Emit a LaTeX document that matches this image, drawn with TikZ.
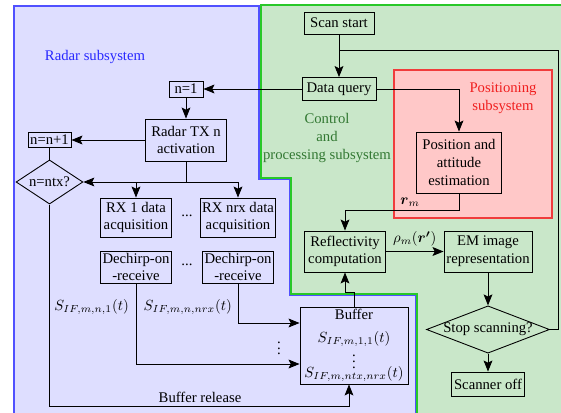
\documentclass[tikz,border=0pt]{standalone}
\usepackage{amsmath}
\usepackage{fontspec}
\setmainfont{Liberation Serif}
\usetikzlibrary{arrows.meta,shapes.geometric}

\definecolor{radarfill}{RGB}{222,222,255}
\definecolor{radarline}{RGB}{80,80,255}
\definecolor{radartext}{RGB}{40,40,255}
\definecolor{ctrlfill}{RGB}{201,231,201}
\definecolor{ctrlline}{RGB}{40,200,40}
\definecolor{ctrltext}{RGB}{50,120,50}
\definecolor{posfill}{RGB}{255,200,200}
\definecolor{posline}{RGB}{240,60,60}
\definecolor{postext}{RGB}{240,30,30}

\tikzset{
	block/.style={draw, line width=0.6pt, align=center, inner sep=1pt},
	decision/.style={draw, line width=0.6pt, diamond, aspect=2.6, inner sep=0pt, align=center},
	link/.style={line width=0.6pt, -{Stealth[length=7.5pt,width=6pt,inset=1.5pt]}},
	plain/.style={line width=0.6pt},
}

\begin{document}
\begin{tikzpicture}[x=0.68pt, y=-0.68pt]
	\useasboundingbox (0,0) rectangle (561,412);
	% subsystems
	\filldraw[fill=ctrlfill, draw=ctrlline, line width=0.8pt] (261,5) -- (565,5) -- (565,416) -- (417,416) -- (417,294) -- (291,294) -- (291,178) -- (261,178) -- cycle;
	\filldraw[fill=radarfill, draw=radarline, line width=0.8pt] (14,6) -- (259,6) -- (259,179.5) -- (289.5,179.5) -- (289.5,295.5) -- (415.5,295.5) -- (415.5,416) -- (14,416) -- cycle;
	\filldraw[fill=posfill, draw=posline, line width=0.8pt] (394,70) rectangle (552,218);
	\node[text=radartext] (radarlbl) at (95,57) {Radar subsystem};
	\node[text=ctrltext, align=center] (ctrllbl) at (327,138) {Control\\and\\processing subsystem};
	\node[text=postext, align=center] (poslbl) at (503,98) {Positioning\\subsystem};

	% control and processing
	\node[block, minimum width=47.6pt, minimum height=15pt] (scan) at (339,23) {Scan start};
	\node[block, minimum width=50.3pt, minimum height=15.6pt] (query) at (339,89) {Data query};
	\node[block, minimum width=57.8pt, minimum height=41.5pt] (pos) at (459,162.5) {Position and\\attitude\\estimation};
	\node[block, minimum width=55pt, minimum height=27.9pt] (refl) at (345,251.5) {Reflectivity\\computation};
	\node[block, minimum width=59.8pt, minimum height=27.9pt] (em) at (488,251.5) {EM image\\representation};
	\node[decision, minimum width=83pt, minimum height=30.6pt] (stop) at (488,329.5) {Stop scanning?};
	\node[block, minimum width=49.6pt, minimum height=16.3pt] (off) at (488,384) {Scanner off};

	% radar
	\node[block, minimum width=23.1pt, minimum height=10.9pt] (n1) at (186,89) {n=1};
	\node[block, minimum width=55pt, minimum height=28.6pt] (tx) at (186,140) {Radar TX n\\activation};
	\node[block, minimum width=29.2pt, minimum height=10.2pt] (nn1) at (49.5,140) {n=n+1};
	\node[decision, minimum width=43.5pt, minimum height=30pt] (ntx) at (49.5,182) {n=ntx?};
	\node[block, minimum width=48.3pt, minimum height=26.5pt] (rx1) at (136,217.5) {RX 1 data\\acquisition};
	\node[block, minimum width=48.3pt, minimum height=26.5pt] (rxn) at (238,217.5) {RX nrx data\\acquisition};
	\node[block, minimum width=48.3pt, minimum height=21.8pt] (dc1) at (136,267) {Dechirp-on\\-receive};
	\node[block, minimum width=48.3pt, minimum height=21.8pt] (dcn) at (238,267) {Dechirp-on\\-receive};
	\node (dotsrx) at (187,216) {...};
	\node (dotsdc) at (187,265) {...};
	\node[block, minimum width=73.4pt, minimum height=52.4pt] (buf) at (354,345.5) {Buffer\\[3.5pt]$S_{IF,m,1,1}(t)$\\[-1.5pt]$\vdots$\\[-6pt]$S_{IF,m,ntx,nrx}(t)$};
	\node (vdotsbuf) at (279,344) {$\vdots$};

	% connectors
	\coordinate (loop) at (558,50);
	\coordinate (rm) at (345,210);
	\coordinate (bufjoin) at (345,292);
	\coordinate (split) at (186,182);
	\coordinate (release) at (349,406);
	\draw[link] (scan) -- (query);
	\draw[plain] (stop.east) -| (loop) -- (loop -| query.north);
	\draw[link] (query) -- (n1);
	\draw[link] (query.east) -| (pos.north);
	\draw[link] (pos.south) |- (rm) -- (refl.north);
	\node (rmlbl) at (410,202) {$\boldsymbol{r}_m$};
	\draw[link] (refl) -- node[above] {$\rho_m(\boldsymbol{r'})$} (em);
	\draw[link] (em) -- (stop);
	\draw[link] (stop) -- (off);
	\draw[link] (buf.north) |- (bufjoin) -- (refl.south);
	\draw[link] (n1) -- (tx);
	\draw[link] (tx) -- (nn1);
	\draw[plain] (nn1) -- (ntx);
	\draw[plain] (tx) -- (split);
	\draw[link] (split -| rxn.north) -- (ntx.east);
	\draw[link] (split -| rx1.north) -- (rx1);
	\draw[link] (split -| rxn.north) -- (rxn);
	\draw[link] (dc1.south) |- (buf.west |- 0,364);
	\draw[link] (dcn.south) |- (buf.west |- 0,323);
	\node[anchor=east] (sig1) at (134,307) {$S_{IF,m,n,1}(t)$};
	\node[anchor=east] (sign) at (237,307) {$S_{IF,m,n,nrx}(t)$};
	\draw[link] (ntx.south) |- (release) -- (release |- buf.south);
	\node (rellbl) at (200,397) {Buffer release};
\end{tikzpicture}
\end{document}
